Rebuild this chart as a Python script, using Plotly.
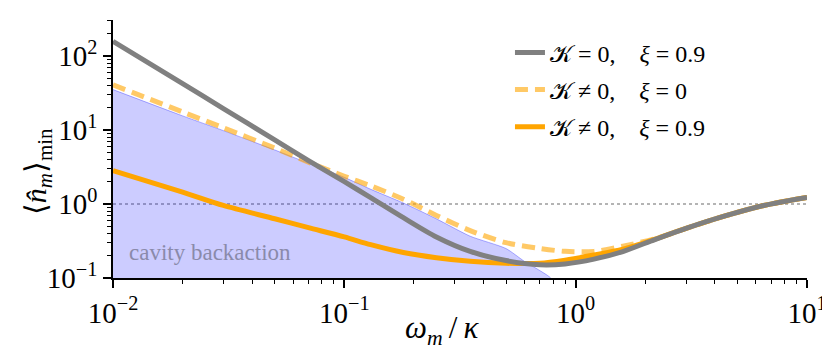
import plotly.graph_objects as go

# omega_m / kappa sample points
w = [0.01, 0.02, 0.03, 0.05, 0.07, 0.1, 0.13, 0.18, 0.25, 0.35,
     0.5, 0.7, 0.9, 1.2, 1.6, 2.2, 3.0, 4.5, 6.5, 10.0]

# K = 0, xi = 0.9
n_k0_xi09 = [158, 42.2, 19.5, 7.35, 3.86, 2.0, 1.22, 0.653, 0.359, 0.229,
             0.172, 0.151, 0.155, 0.18, 0.228, 0.331, 0.468, 0.70, 0.955, 1.23]
# K != 0, xi = 0
n_k_xi0 = [40.7, 17.5, 10.7, 5.69, 3.67, 2.37, 1.76, 1.16, 0.70, 0.437,
           0.30, 0.251, 0.229, 0.229, 0.269, 0.339, 0.468, 0.70, 0.955, 1.23]
# K != 0, xi = 0.9
n_k_xi09 = [2.82, 1.445, 0.955, 0.631, 0.479, 0.359, 0.282, 0.221, 0.188, 0.168,
            0.158, 0.158, 0.174, 0.204, 0.245, 0.335, 0.468, 0.70, 0.955, 1.23]

# cavity backaction region (upper edge)
w_cb = [0.01, 0.02, 0.03, 0.05, 0.07, 0.1, 0.13, 0.18, 0.25, 0.35,
        0.5, 0.6, 0.7, 0.78, 0.82]
n_cb = [35.1, 15.5, 9.8, 5.37, 3.55, 2.29, 1.58, 1.03, 0.63, 0.367,
        0.25, 0.168, 0.126, 0.1, 0.07]
n_floor = 0.01

ref_level = 1.0

x_major = [0.01, 0.1, 1, 10]
x_labels = ['10<sup>−2</sup>', '10<sup>−1</sup>', '10<sup>0</sup>', '10<sup>1</sup>']
y_major = [0.1, 1, 10, 100]
y_labels = ['10<sup>−1</sup>', '10<sup>0</sup>', '10<sup>1</sup>', '10<sup>2</sup>']

x_minor = [m * d for d in [0.01, 0.1, 1] for m in range(2, 10)]
y_minor = [m * d for d in [0.1, 1, 10] for m in range(2, 10)] + [200, 300]

serif = 'Liberation Serif'
sp = ',\u2003'

fig = go.Figure()

fig.add_trace(go.Scatter(
    x=w_cb + w_cb[::-1][:1] + w_cb[:1],
    y=n_cb + [n_floor, n_floor],
    fill='toself', fillcolor='rgba(0,0,255,0.2)',
    line=dict(color='rgba(0,0,255,0.3)', width=1, shape='spline', smoothing=0.6),
    mode='lines', showlegend=False, hoverinfo='skip'))

fig.add_trace(go.Scatter(
    x=w, y=n_k_xi0, mode='lines', name='𝒦 ≠ 0' + sp + '<i>ξ</i> = 0',
    line=dict(color='rgba(255,165,0,0.6)', width=5, dash='13px,7px',
              shape='spline', smoothing=0.8),
    legendgroup='b', legendrank=2))

fig.add_trace(go.Scatter(
    x=w, y=n_k_xi09, mode='lines', name='𝒦 ≠ 0' + sp + '<i>ξ</i> = 0.9',
    line=dict(color='#ffa500', width=5, shape='spline', smoothing=0.8),
    legendgroup='c', legendrank=3))

fig.add_trace(go.Scatter(
    x=w, y=n_k0_xi09, mode='lines', name='𝒦 = 0' + sp + '<i>ξ</i> = 0.9',
    line=dict(color='#808080', width=5, shape='spline', smoothing=0.8),
    legendgroup='a', legendrank=1))

fig.add_hline(y=ref_level, line=dict(color='rgba(130,130,130,0.6)', width=2, dash='dot'),
              layer='below')

fig.add_annotation(x=-1.94, y=-0.65, xref='x', yref='y', text='cavity backaction',
                   showarrow=False, xanchor='left', yanchor='middle',
                   font=dict(family=serif, size=23, color='#8a8aaa'))

fig.add_annotation(x=-0.108, y=0.41, xref='paper', yref='paper',
                   text='⟨<i>n̂</i><sub><i>m</i></sub>⟩<sub>min</sub>',
                   textangle=-90, showarrow=False, xanchor='center', yanchor='middle',
                   font=dict(family=serif, size=30, color='black'))

fig.add_annotation(x=0.475, y=-0.2, xref='paper', yref='paper',
                   text='<i>ω</i><sub><i>m</i></sub>\u2009/\u2009<i>κ</i>',
                   showarrow=False, xanchor='center', yanchor='middle',
                   font=dict(family=serif, size=31, color='black'))

fig.update_xaxes(
    type='log', range=[-2, 1],
    tickmode='array', tickvals=x_major, ticktext=x_labels,
    ticks='outside', ticklen=8, tickwidth=1.5, tickcolor='black',
    minor=dict(tickmode='array', tickvals=x_minor, ticks='outside',
               ticklen=4, tickwidth=1, tickcolor='black', showgrid=False),
    showline=True, linecolor='black', linewidth=1.5, mirror=False,
    showgrid=False, zeroline=False,
    tickfont=dict(family=serif, size=29, color='black'))

fig.update_yaxes(
    type='log', range=[-1, 2.486],
    tickmode='array', tickvals=y_major, ticktext=y_labels,
    ticks='outside', ticklen=8, tickwidth=1.5, tickcolor='black',
    minor=dict(tickmode='array', tickvals=y_minor, ticks='outside',
               ticklen=4, tickwidth=1, tickcolor='black', showgrid=False),
    showline=True, linecolor='black', linewidth=1.5, mirror=False,
    showgrid=False, zeroline=False,
    tickfont=dict(family=serif, size=29, color='black'))

fig.update_layout(
    width=830, height=350,
    margin=dict(l=105, r=31, t=12, b=80, autoexpand=False),
    plot_bgcolor='white', paper_bgcolor='white',
    font=dict(family=serif, color='black'),
    legend=dict(x=0.572, y=0.96, xanchor='left', yanchor='top',
                bgcolor='rgba(0,0,0,0)', tracegroupgap=3,
                font=dict(family=serif, size=24, color='black')),
)

fig.write_html('out.html')
